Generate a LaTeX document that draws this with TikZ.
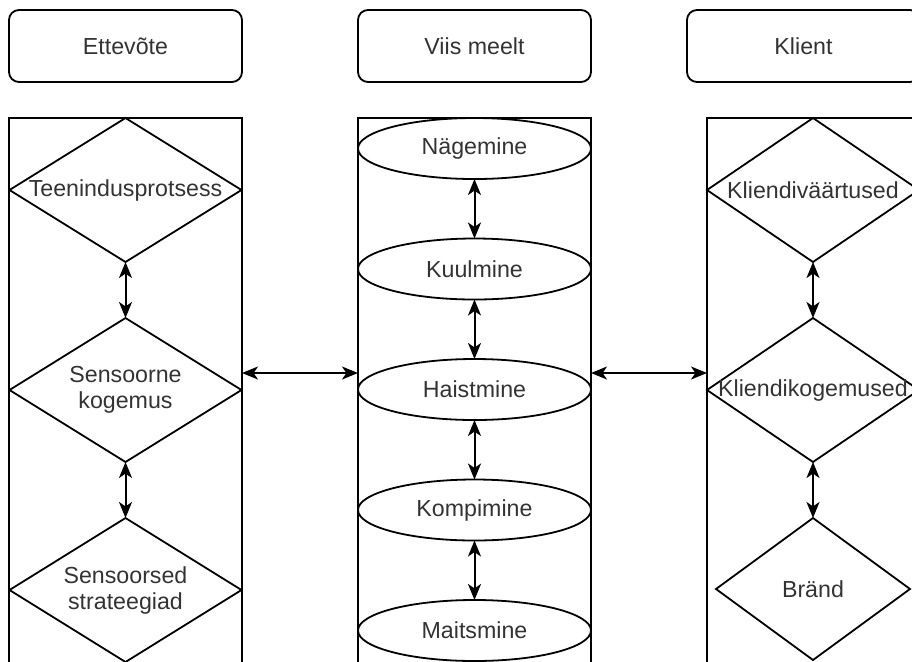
\documentclass[tikz,border=0pt]{standalone}
\usepackage{fontspec}
\setmainfont{Liberation Sans}
\usetikzlibrary{positioning,shapes.geometric,arrows.meta}

\begin{document}
\begin{tikzpicture}[x=0.5pt, y=-0.5pt, line width=0.9pt,
  every node/.style={font=\fontsize{11.6}{13}\selectfont, text=black!80, outer sep=0pt},
  header/.style={draw, rounded corners=5pt, minimum width=116.5pt, minimum height=36pt},
  lane/.style={draw, minimum width=116.5pt, minimum height=300pt, anchor=north},
  bigdiamond/.style={draw, diamond, inner sep=0pt, aspect=1.6, minimum width=116pt, minimum height=72pt, align=center},
  clientdiamond/.style={bigdiamond, inner xsep=-4pt, aspect=1.47, minimum width=106pt},
  sense/.style={draw, ellipse, inner sep=0pt, minimum width=116.5pt, minimum height=30.5pt},
  link/.style={line width=1pt, {Stealth[length=8pt,width=6.5pt,inset=2.2pt]}-{Stealth[length=8pt,width=6.5pt,inset=2.2pt]}}]
\useasboundingbox (0,0) rectangle (912,661);
\clip (0,0) rectangle (912,661);

\node[lane] (laneL) at (125.5,118) {};
\node[lane, right=58pt of laneL] (laneM) {};
\node[lane, right=58pt of laneM] (laneR) {};

\node[header, above=18pt of laneL] (hdrL) {Ettevõte};
\node[header, above=18pt of laneM] (hdrM) {Viis meelt};
\node[header, anchor=south west] (hdrR) at ([xshift=-10pt,yshift=18pt]laneR.north west) {Klient};

\node[bigdiamond, anchor=north] (process) at (laneL.north) {Teenindusprotsess};
\node[bigdiamond, below=28pt of process] (experience) {Sensoorne\\kogemus};
\node[bigdiamond, below=28pt of experience] (strategy) {Sensoorsed\\strateegiad};

\node[sense, anchor=north] (sight) at (laneM.north) {Nägemine};
\node[sense, below=29.75pt of sight] (hearing) {Kuulmine};
\node[sense, below=29.75pt of hearing] (smell) {Haistmine};
\node[sense, below=29.75pt of smell] (touch) {Kompimine};
\node[sense, below=29.75pt of touch] (taste) {Maitsmine};

\node[clientdiamond, anchor=north] (values) at ([xshift=53pt]laneR.north west) {Kliendiväärtused};
\node[clientdiamond, below=28pt of values] (custexp) {Kliendikogemused};
\node[bigdiamond, aspect=1.37, minimum width=97pt, minimum height=71pt, below=28pt of custexp] (brand) {Bränd};

\draw[link] (process.south) -- (experience.north);
\draw[link] (experience.south) -- (strategy.north);
\draw[link] (sight.south) -- (hearing.north);
\draw[link] (hearing.south) -- (smell.north);
\draw[link] (smell.south) -- (touch.north);
\draw[link] (touch.south) -- (taste.north);
\draw[link] (values.south) -- (custexp.north);
\draw[link] (custexp.south) -- (brand.north);

\coordinate (cross) at (0,373);
\draw[link] (laneL.east |- cross) -- (laneM.west |- cross);
\draw[link] (laneM.east |- cross) -- (laneR.west |- cross);
\end{tikzpicture}
\end{document}
